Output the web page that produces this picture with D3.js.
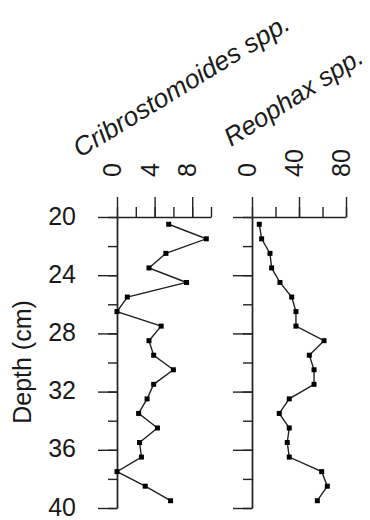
<!DOCTYPE html>
<html>
<head>
<meta charset="utf-8">
<script src="https://cdn.jsdelivr.net/npm/d3@7"></script>
<style>
  html, body { margin: 0; padding: 0; background: #fff; }
  svg text { font-family: "Liberation Sans", Arial, Helvetica, sans-serif; fill: #1a1a1a; }
</style>
</head>
<body>
<svg id="chart" width="370" height="520"></svg>
<script>
// Sample depths (cm), mid-points of 1 cm slices
const depths = [20.5, 21.5, 22.5, 23.5, 24.5, 25.5, 26.5, 27.5, 28.5, 29.5,
                30.5, 31.5, 32.5, 33.5, 34.5, 35.5, 36.5, 37.5, 38.5, 39.5];
// Cribrostomoides spp. abundance
const cribrostomoides = [5.5, 9.5, 5.2, 3.4, 7.4, 1.1, 0, 4.7, 3.4, 3.9,
                         6.0, 3.9, 3.2, 2.3, 4.3, 2.4, 2.6, 0, 3.0, 5.7];
// Reophax spp. abundance
const reophax = [6.2, 8.2, 15.3, 16.7, 23.8, 33.8, 37.4, 37.4, 61.3, 48.8,
                 52.8, 52.8, 31.7, 23.2, 31.7, 30.0, 31.7, 59.3, 64.1, 55.6];
const taxa = ["Cribrostomoides spp.", "Reophax spp."];
const depthTicks = [20, 22, 24, 26, 28, 30, 32, 34, 36, 38, 40];
const depthLabels = [20, 24, 28, 32, 36, 40];
const cribroTicks = [0, 2, 4, 6, 8, 10];
const cribroLabels = [0, 4, 8];
const reophaxTicks = [0, 20, 40, 60, 80];
const reophaxLabels = [0, 40, 80];

const svg = d3.select("#chart");
const stroke = "#222";
const fs = 25;

const y = d3.scaleLinear().domain([20, 40]).range([217, 508]);

const panels = [
  { name: taxa[0], values: cribrostomoides, domain: [0, 10], range: [117, 211],
    ticks: cribroTicks, labels: cribroLabels, title: [80, 158, -31.5], tfs: 26.3 },
  { name: taxa[1], values: reophax, domain: [0, 80], range: [252, 346],
    ticks: reophaxTicks, labels: reophaxLabels, title: [231, 147, -32.5], tfs: 25.8 }
];

function styleAxis(g) {
  g.selectAll("path, line").attr("stroke", stroke).attr("stroke-width", 1.4);
}

panels.forEach(p => {
  const x = d3.scaleLinear().domain(p.domain).range(p.range);

  // depth axis with minor + major ticks
  svg.append("g").attr("transform", `translate(${p.range[0]},0)`)
    .call(d3.axisLeft(y).tickValues(depthTicks).tickSize(9).tickSizeOuter(0).tickFormat(""))
    .call(styleAxis);
  svg.append("g").attr("transform", `translate(${p.range[0]},0)`)
    .call(d3.axisLeft(y).tickValues(depthLabels).tickSize(19).tickSizeOuter(0).tickFormat(""))
    .call(styleAxis);

  // value axis on top
  svg.append("g").attr("transform", `translate(0,${y(20)})`)
    .call(d3.axisTop(x).tickValues(p.ticks).tickSize(10).tickSizeOuter(0).tickFormat(""))
    .call(styleAxis);
  const top = svg.append("g").attr("transform", `translate(0,${y(20)})`)
    .call(d3.axisTop(x).tickValues(p.labels).tickSize(20).tickSizeOuter(0).tickFormat(""))
    .call(styleAxis);
  top.select(".domain").remove();

  // rotated value labels
  svg.append("g").selectAll("text").data(p.labels).join("text")
    .attr("transform", d => `translate(${x(d) + 4},177) rotate(-90)`)
    .attr("text-anchor", "start")
    .attr("font-size", fs)
    .text(d => d);

  // profile line and points
  const pts = depths.map((d, i) => [x(p.values[i]), y(d)]);
  svg.append("path")
    .attr("d", d3.line()(pts))
    .attr("fill", "none").attr("stroke", stroke).attr("stroke-width", 1.4);
  svg.append("g").selectAll("rect").data(pts).join("rect")
    .attr("x", d => d[0] - 2.5).attr("y", d => d[1] - 2.5)
    .attr("width", 5).attr("height", 5).attr("fill", "#000");

  // taxon title
  svg.append("text")
    .attr("transform", `translate(${p.title[0]},${p.title[1]}) rotate(${p.title[2]})`)
    .attr("font-size", p.tfs).attr("font-style", "italic")
    .text(p.name);
});

// depth labels
svg.append("g").selectAll("text").data(depthLabels).join("text")
  .attr("x", 76).attr("y", d => y(d)).attr("dy", "0.3em")
  .attr("text-anchor", "end").attr("font-size", fs)
  .text(d => d);

svg.append("text")
  .attr("transform", `translate(31,362) rotate(-90)`)
  .attr("text-anchor", "middle").attr("font-size", fs)
  .text("Depth (cm)");
</script>
</body>
</html>
